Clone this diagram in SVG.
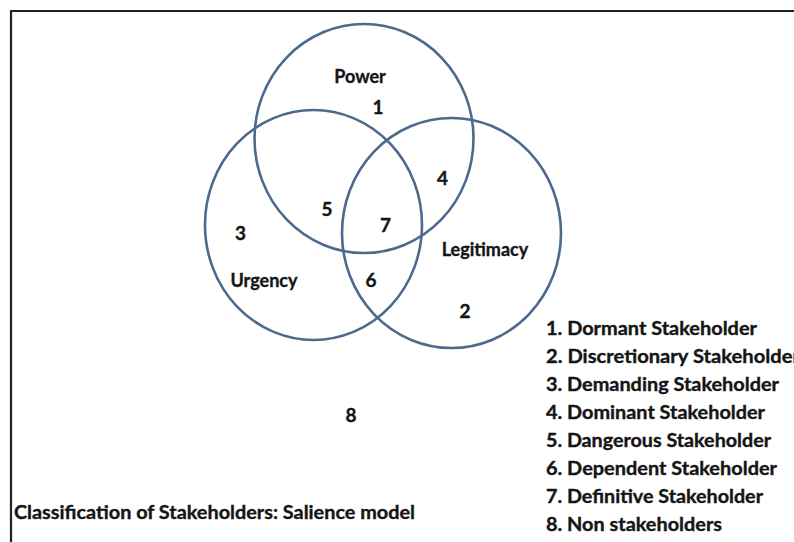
<svg xmlns="http://www.w3.org/2000/svg" width="794" height="542" viewBox="0 0 794 542">
  <style>
    .frame { stroke: #222; stroke-width: 2.2; fill: none; }
    .set { fill: none; stroke: #4d6a8d; stroke-width: 2.6; }
    .lbl, .num, .key { font-family: Lato, "Open Sans", "Liberation Sans", sans-serif; font-weight: 700; fill: #151515; stroke: #151515; stroke-width: 0.35; }
    .lbl { font-size: 18px; text-anchor: middle; }
    .num { font-size: 19px; text-anchor: middle; }
    .key { font-size: 18px; }
  </style>
  <rect width="794" height="542" fill="#ffffff"/>

  <!-- page frame (top and left edges) -->
  <path class="frame" d="M11 542 V11 H794"/>

  <!-- the three attribute sets -->
  <g id="power">
    <ellipse class="set" cx="364" cy="138.5" rx="109.5" ry="114.5"/>
    <text class="lbl" x="360" y="83">Power</text>
  </g>
  <g id="urgency">
    <ellipse class="set" cx="313.5" cy="225" rx="108.5" ry="115"/>
    <text class="lbl" x="264" y="287">Urgency</text>
  </g>
  <g id="legitimacy">
    <ellipse class="set" cx="451.5" cy="233" rx="109.5" ry="115"/>
    <text class="lbl" x="485" y="256">Legitimacy</text>
  </g>

  <!-- region numbers -->
  <g id="regions">
    <text class="num" x="378" y="114">1</text>
    <text class="num" x="465" y="318">2</text>
    <text class="num" x="240.5" y="240">3</text>
    <text class="num" x="442.5" y="185">4</text>
    <text class="num" x="327" y="216">5</text>
    <text class="num" x="371" y="287">6</text>
    <text class="num" x="385.5" y="232">7</text>
    <text class="num" x="351" y="422">8</text>
  </g>

  <!-- key -->
  <g id="legend">
    <text class="key" x="546" y="335" textLength="211" lengthAdjust="spacingAndGlyphs">1. Dormant Stakeholder</text>
    <text class="key" x="546" y="363" textLength="254" lengthAdjust="spacingAndGlyphs">2. Discretionary Stakeholder</text>
    <text class="key" x="546" y="391" textLength="233" lengthAdjust="spacingAndGlyphs">3. Demanding Stakeholder</text>
    <text class="key" x="546" y="419" textLength="219" lengthAdjust="spacingAndGlyphs">4. Dominant Stakeholder</text>
    <text class="key" x="546" y="447" textLength="225" lengthAdjust="spacingAndGlyphs">5. Dangerous Stakeholder</text>
    <text class="key" x="546" y="475" textLength="231" lengthAdjust="spacingAndGlyphs">6. Dependent Stakeholder</text>
    <text class="key" x="546" y="503" textLength="217" lengthAdjust="spacingAndGlyphs">7. Definitive Stakeholder</text>
    <text class="key" x="546" y="531" textLength="176" lengthAdjust="spacingAndGlyphs">8. Non stakeholders</text>
  </g>

  <g id="caption">
    <text class="key" x="14" y="519" textLength="401" lengthAdjust="spacingAndGlyphs">Classification of Stakeholders: Salience model</text>
  </g>
</svg>
